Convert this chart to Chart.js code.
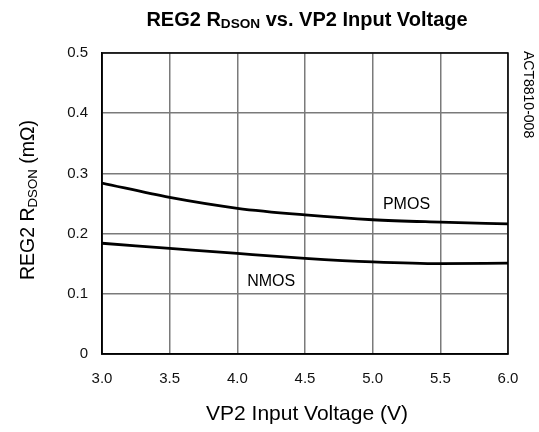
<!DOCTYPE html>
<html>
<head>
<meta charset="utf-8">
<script src="https://cdn.jsdelivr.net/npm/chart.js@4"></script>
<style>
  html, body { margin: 0; padding: 0; background: #fff; }
  #wrap { width: 539px; height: 432px; }
</style>
</head>
<body>
<div id="wrap"><canvas id="rdson"></canvas></div>
<script>
// data
const voltage = [3.0, 3.5, 4.0, 4.5, 5.0, 5.5, 6.0];
const pmos = [0.284, 0.260, 0.242, 0.231, 0.223, 0.219, 0.216];
const nmos = [0.184, 0.1755, 0.167, 0.159, 0.153, 0.150, 0.151];
const xTicks = [3.0, 3.5, 4.0, 4.5, 5.0, 5.5, 6.0];
const yTicks = [0, 0.1, 0.2, 0.3, 0.4, 0.5];

const FONT = 'Arial, "Liberation Sans", sans-serif';

// text with a subscript part
function drawSub(ctx, parts, x, y, size, bold, align) {
  const w = parts.map(p => {
    ctx.font = (bold ? 'bold ' : '') + (p.sub ? size * 0.68 : size) + 'px ' + FONT;
    return ctx.measureText(p.t).width;
  });
  const total = w.reduce((a, b) => a + b, 0);
  let cx = align === 'center' ? x - total / 2 : x;
  parts.forEach((p, i) => {
    ctx.font = (bold ? 'bold ' : '') + (p.sub ? size * 0.68 : size) + 'px ' + FONT;
    ctx.fillText(p.t, cx, p.sub ? y + size * 0.22 : y);
    cx += w[i];
  });
}

const decor = {
  id: 'decor',
  afterDraw(chart) {
    const ctx = chart.ctx;
    const a = chart.chartArea;
    ctx.save();
    // frame
    ctx.strokeStyle = '#000';
    ctx.lineWidth = 1.5;
    ctx.strokeRect(a.left, a.top, a.right - a.left, a.bottom - a.top);

    ctx.fillStyle = '#000';
    ctx.textBaseline = 'middle';
    ctx.textAlign = 'left';
    // title
    drawSub(ctx, [{t: 'REG2 R'}, {t: 'DSON', sub: true}, {t: ' vs. VP2 Input Voltage'}],
      307, 20, 20, true, 'center');
    // x title
    ctx.font = '21px ' + FONT;
    ctx.textAlign = 'center';
    ctx.fillText('VP2 Input Voltage (V)', 307, 414);
    // y title
    ctx.save();
    ctx.translate(29, 200);
    ctx.rotate(-Math.PI / 2);
    ctx.textAlign = 'left';
    drawSub(ctx, [{t: 'REG2 R'}, {t: 'DSON', sub: true}, {t: ' (m\u03A9)'}], 0, 0, 19.5, false, 'center');
    ctx.restore();
    // figure id on the right
    ctx.save();
    ctx.translate(527.5, 51);
    ctx.rotate(Math.PI / 2);
    ctx.font = '14px ' + FONT;
    ctx.textAlign = 'left';
    ctx.fillText('ACT8810-008', 0, 0);
    ctx.restore();
    // curve labels
    const xs = chart.scales.x, ys = chart.scales.y;
    ctx.font = '16px ' + FONT;
    ctx.textAlign = 'center';
    ctx.fillText('PMOS', xs.getPixelForValue(5.25), ys.getPixelForValue(0.2475));
    ctx.fillText('NMOS', xs.getPixelForValue(4.25), ys.getPixelForValue(0.12));
    ctx.restore();
  }
};

new Chart(document.getElementById('rdson'), {
  type: 'line',
  data: {
    datasets: [
      { label: 'PMOS', data: voltage.map((v, i) => ({x: v, y: pmos[i]})) },
      { label: 'NMOS', data: voltage.map((v, i) => ({x: v, y: nmos[i]})) }
    ]
  },
  options: {
    responsive: true,
    maintainAspectRatio: false,
    animation: false,
    devicePixelRatio: 1,
    layout: { padding: { top: 53, right: 31, left: 0, bottom: 0 } },
    elements: {
      line: { borderColor: '#000', borderWidth: 2.8, tension: 0.4, cubicInterpolationMode: 'monotone' },
      point: { radius: 0 }
    },
    plugins: { legend: { display: false }, tooltip: { enabled: false } },
    scales: {
      x: {
        type: 'linear', min: 3, max: 6,
        afterFit(s) { s.height = 78; },
        afterBuildTicks(s) { s.ticks = xTicks.map(v => ({value: v})); },
        grid: { color: '#7a7a7a', lineWidth: 1.5, drawTicks: false },
        border: { color: '#000', width: 1.5 },
        ticks: { padding: 16, color: '#111', font: { size: 15, family: FONT },
          callback: v => v.toFixed(1) }
      },
      y: {
        min: 0, max: 0.5,
        afterFit(s) { s.width = 102; },
        afterBuildTicks(s) { s.ticks = yTicks.map(v => ({value: v})); },
        grid: { color: '#7a7a7a', lineWidth: 1.5, drawTicks: false },
        border: { color: '#000', width: 1.5 },
        ticks: { padding: 14, color: '#111', font: { size: 15, family: FONT },
          callback: v => v === 0 ? '0' : v.toFixed(1) }
      }
    }
  },
  plugins: [decor]
});
</script>
</body>
</html>
